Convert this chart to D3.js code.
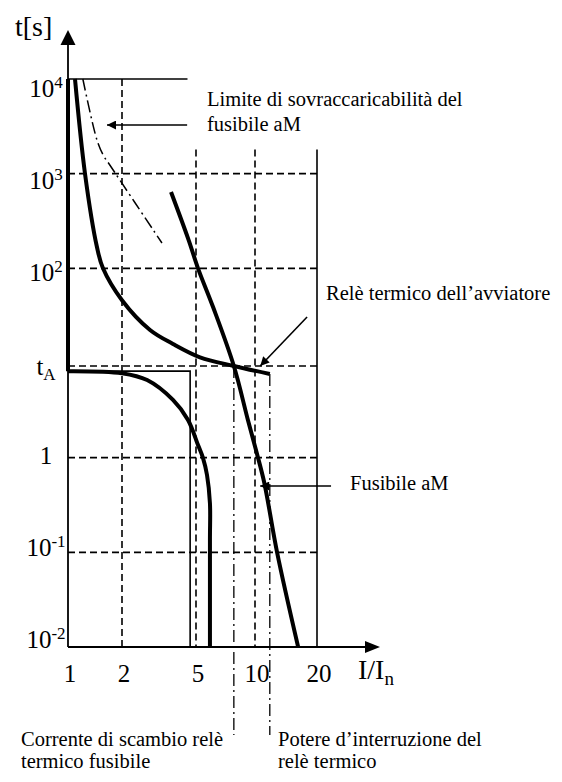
<!DOCTYPE html>
<html>
<head>
<meta charset="utf-8">
<script src="https://cdn.jsdelivr.net/npm/d3@7"></script>
<style>
body { margin: 0; background: #fff; }
svg { display: block; font-family: "Liberation Serif", "Times New Roman", serif; }
</style>
</head>
<body>
<div id="chart"></div>
<script>
const width = 562, height = 782;

// axes
const xTicks = [1, 2, 5, 10, 20];
const yTicks = [0.01, 0.1, 1, 9.3, 100, 1000, 10000];
const yTickBase = ["10", "10", "1", "t", "10", "10", "10"];
const yTickSup = ["-2", "-1", "", "", "2", "3", "4"];
const yTickSub = ["", "", "", "A", "", "", ""];
const gridH = [0.1, 1, 9.3, 100, 1000];

// relè termico, ramo superiore
const releI = [1.094, 1.244, 1.45, 1.567, 2, 2.83, 3.76, 5.24, 7.8, 11.8];
const releT = [10000, 1000, 168, 100, 46, 22.3, 15.9, 11.5, 9.3, 7.65];

// relè termico, ramo inferiore
const releBassoI = [1, 2, 2.73, 3.76, 4.53, 5.12, 5.43, 5.69, 5.89, 5.89, 5.89];
const releBassoT = [8.2, 7.8, 6.6, 4.07, 2.5, 1.36, 0.99, 0.656, 0.33, 0.135, 0.01];

// contorno sottile
const bordoI = [1, 4.65, 4.65];
const bordoT = [8.2, 8.2, 0.01];

// fusibile aM
const fusI = [3.67, 4.56, 5.12, 6.11, 7.8, 9.2, 10.2, 11.1, 12.8, 16.2];
const fusT = [640, 200, 100, 39, 9.3, 2.5, 1.12, 0.54, 0.1, 0.01];

// limite di sovraccaricabilità
const limI = [1.21, 1.45, 1.57, 1.71, 3.28];
const limT = [10000, 2270, 1575, 1235, 185];

// correnti notevoli
const scambio = [7.8, 9.3];
const potere = [11.8, 7.65];

const svg = d3.select("#chart").append("svg")
    .attr("width", width)
    .attr("height", height);

const x = d3.scaleLog().domain(xTicks).range([68, 122, 196, 255, 317]);
const y = d3.scaleLog().domain([0.01, 10000]).range([647, 79]);
const yLab = d3.scaleLog().domain([0.01, 10000]).range([648, 97]);

const line = d3.line().x(d => x(d[0])).y(d => y(d[1]));
const smooth = d3.curveCatmullRom.alpha(0.5);

svg.append("defs").append("marker")
    .attr("id", "head")
    .attr("viewBox", "0 0 10 10")
    .attr("refX", 10).attr("refY", 5)
    .attr("markerWidth", 11).attr("markerHeight", 9)
    .attr("markerUnits", "userSpaceOnUse")
    .attr("orient", "auto")
    .append("path").attr("d", "M0,0L10,5L0,10z").attr("fill", "#000");

const g = svg.append("g").attr("fill", "none").attr("stroke", "#000");

// griglia tratteggiata
g.selectAll(".gh").data(gridH).join("line")
    .attr("x1", x(1)).attr("x2", x(20))
    .attr("y1", d => y(d)).attr("y2", d => y(d))
    .attr("stroke-width", 1.6).attr("stroke-dasharray", "7,4");

g.append("line")
    .attr("x1", x(2)).attr("x2", x(2))
    .attr("y1", y(10000)).attr("y2", y(0.01))
    .attr("stroke-width", 1.6).attr("stroke-dasharray", "7,4");

g.selectAll(".gv").data([5, 10]).join("line")
    .attr("x1", d => x(d)).attr("x2", d => x(d))
    .attr("y1", y(1800)).attr("y2", y(0.01))
    .attr("stroke-width", 1.6).attr("stroke-dasharray", "7,4");

g.append("line")
    .attr("x1", x(20)).attr("x2", x(20))
    .attr("y1", y(1800)).attr("y2", y(0.01))
    .attr("stroke-width", 1.6);

g.append("line")
    .attr("x1", x(1)).attr("x2", x(4.5))
    .attr("y1", y(10000)).attr("y2", y(10000))
    .attr("stroke-width", 1.6);

// assi
g.append("line")
    .attr("x1", x(1)).attr("x2", x(1))
    .attr("y1", y(0.01)).attr("y2", 44)
    .attr("stroke-width", 1.8);
svg.append("path")
    .attr("d", `M${x(1)},30L${x(1) - 7.5},45L${x(1) + 7.5},45Z`)
    .attr("fill", "#000");
g.append("line")
    .attr("x1", x(1)).attr("x2", 366)
    .attr("y1", y(0.01)).attr("y2", y(0.01))
    .attr("stroke-width", 1.8);
svg.append("path")
    .attr("d", `M380,${y(0.01)}L365,${y(0.01) - 6}L365,${y(0.01) + 6}Z`)
    .attr("fill", "#000");

// linee tratto-punto verso le didascalie
g.selectAll(".dd").data([scambio, potere]).join("line")
    .attr("x1", d => x(d[0])).attr("x2", d => x(d[0]))
    .attr("y1", d => y(d[1])).attr("y2", y(0.01) + 88)
    .attr("stroke-width", 1.3).attr("stroke-dasharray", "12,4,2,4");

// contorno sottile del relè
g.append("path")
    .attr("d", line(d3.zip(bordoI, bordoT)))
    .attr("stroke-width", 1.6);

// tratto verticale del relè sull'asse
g.append("line")
    .attr("x1", x(1)).attr("x2", x(1))
    .attr("y1", y(10000)).attr("y2", y(8.2))
    .attr("stroke-width", 4);

g.append("path")
    .attr("d", line.curve(smooth)(d3.zip(releI, releT)))
    .attr("stroke-width", 4);

g.append("path")
    .attr("d", line.curve(smooth)(d3.zip(releBassoI, releBassoT)))
    .attr("stroke-width", 4);

g.append("path")
    .attr("d", line.curve(smooth)(d3.zip(fusI, fusT)))
    .attr("stroke-width", 4);

g.append("path")
    .attr("d", line.curve(smooth)(d3.zip(limI, limT)))
    .attr("stroke-width", 1.5).attr("stroke-dasharray", "12,4,2,4");

// frecce delle didascalie
const frecce = [
    [[4.48, 3265], [1.65, 3265]],
    [[17.9, 30.6], [10.6, 9.3]],
    [[23.4, 0.502], [10.6, 0.502]]
];
g.selectAll(".fr").data(frecce).join("line")
    .attr("x1", d => x(d[0][0])).attr("y1", d => y(d[0][1]))
    .attr("x2", d => x(d[1][0])).attr("y2", d => y(d[1][1]))
    .attr("stroke-width", 1.6)
    .attr("marker-end", "url(#head)");

// etichette asse x
svg.selectAll(".xl").data(xTicks).join("text")
    .attr("x", d => x(d) + 2).attr("y", 682)
    .attr("text-anchor", "middle")
    .attr("font-size", 25)
    .text(d => d);

// etichette asse y
const yl = svg.selectAll(".yl").data(yTicks).join("text")
    .attr("x", 46).attr("y", d => yLab(d))
    .attr("text-anchor", "middle")
    .attr("font-size", 25);
yl.append("tspan").text((d, i) => yTickBase[i]);
yl.append("tspan")
    .attr("font-size", 17).attr("dy", (d, i) => yTickSup[i] ? -9 : yTickSub[i] ? 5 : 0)
    .text((d, i) => yTickSup[i] || yTickSub[i]);

svg.append("text").attr("x", 15).attr("y", 36).attr("font-size", 28).text("t[s]");
const xt = svg.append("text").attr("x", 358).attr("y", 679).attr("font-size", 28);
xt.append("tspan").text("I/I");
xt.append("tspan").attr("font-size", 19).attr("dy", 6).text("n");

const note = [
    ["Limite di sovraccaricabilità del", 207, 106],
    ["fusibile aM", 207, 131],
    ["Relè termico dell\u2019avviatore", 326, 300],
    ["Fusibile aM", 350, 490],
    ["Corrente di scambio relè", 21, 746],
    ["termico fusibile", 21, 768],
    ["Potere d\u2019interruzione del", 278, 746],
    ["relè termico", 278, 768]
];
svg.selectAll(".nt").data(note).join("text")
    .attr("x", d => d[1]).attr("y", d => d[2])
    .attr("font-size", 20.5)
    .text(d => d[0]);
</script>
</body>
</html>
